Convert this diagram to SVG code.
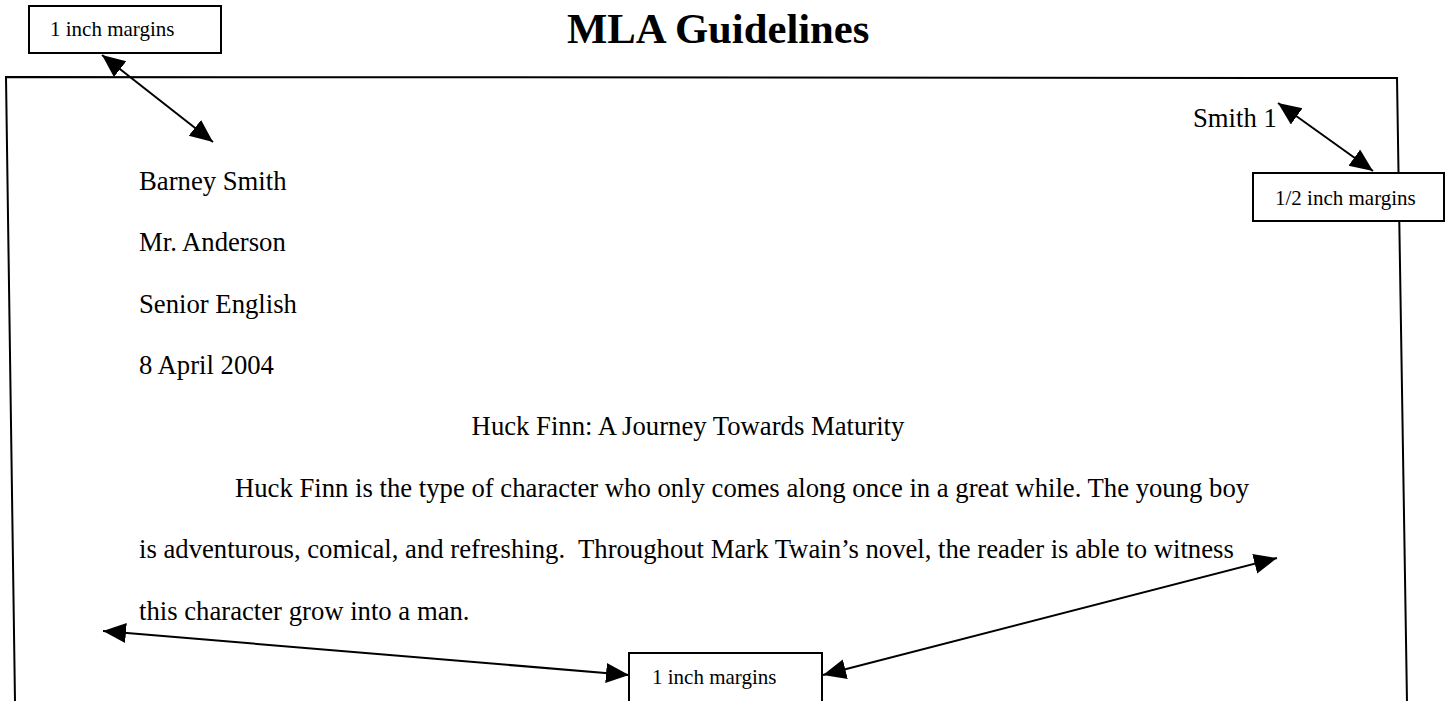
<svg xmlns="http://www.w3.org/2000/svg" width="1450" height="701" viewBox="0 0 1450 701">
<style>
.body{font-family:"Liberation Serif","Times New Roman",serif;font-size:26.7px;fill:#000}
.lbl{font-family:"Liberation Serif","Times New Roman",serif;font-size:21px;fill:#000}
.title{font-family:"Liberation Serif","Times New Roman",serif;font-size:42.7px;font-weight:bold;fill:#000}
.box{fill:#fff;stroke:#000;stroke-width:2}
.conn{stroke:#000;stroke-width:2;fill:none;marker-start:url(#ah);marker-end:url(#ah)}
</style>
<defs>
<marker id="ah" markerUnits="userSpaceOnUse" markerWidth="26" markerHeight="22" refX="23" refY="10" orient="auto-start-reverse" viewBox="0 0 26 22">
<path d="M0,0 L23,10 L0,20 z" fill="#000"/>
</marker>
</defs>
<rect width="1450" height="701" fill="#fff"/>
<g id="title"><text class="title" x="567" y="43">MLA Guidelines</text></g>
<g id="page">
<path d="M15,702 L6,77 L1397,78 L1407,702" fill="none" stroke="#000" stroke-width="2"/>
<text class="body" x="1193" y="127">Smith 1</text>
<text class="body" x="139" y="190">Barney Smith</text>
<text class="body" x="139" y="251">Mr. Anderson</text>
<text class="body" x="139" y="313">Senior English</text>
<text class="body" x="139" y="374">8 April 2004</text>
<text class="body" x="688" y="435" text-anchor="middle">Huck Finn: A Journey Towards Maturity</text>
<text class="body" x="235" y="497">Huck Finn is the type of character who only comes along once in a great while. The young boy</text>
<text class="body" x="139" y="558" xml:space="preserve">is adventurous, comical, and refreshing.  Throughout Mark Twain’s novel, the reader is able to witness</text>
<text class="body" x="139" y="620">this character grow into a man.</text>
</g>
<g id="connectors">
<line class="conn" x1="102" y1="55" x2="213" y2="142"/>
<line class="conn" x1="1278" y1="103" x2="1373" y2="171"/>
<line class="conn" x1="103" y1="631" x2="629" y2="675"/>
<line class="conn" x1="823" y1="675" x2="1277" y2="558"/>
</g>
<g id="box-top-left">
<rect class="box" x="29" y="6" width="192" height="47"/>
<text class="lbl" x="50" y="36">1 inch margins</text>
</g>
<g id="box-half-inch">
<rect class="box" x="1253" y="173" width="191" height="48"/>
<text class="lbl" x="1275" y="205">1/2 inch margins</text>
</g>
<g id="box-bottom">
<rect class="box" x="629" y="653" width="193" height="60"/>
<text class="lbl" x="652" y="684">1 inch margins</text>
</g>
</svg>
